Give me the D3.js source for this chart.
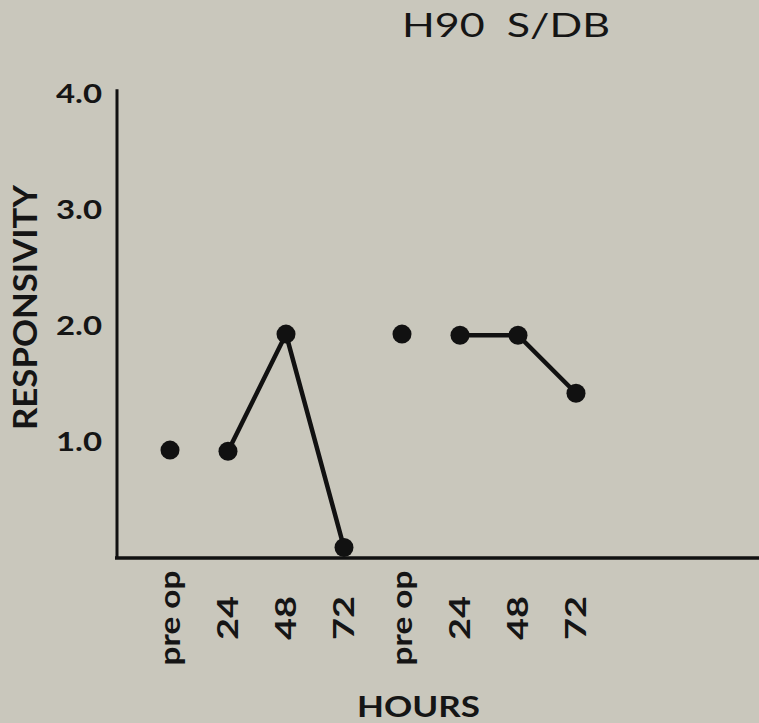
<!DOCTYPE html>
<meta charset="utf-8">
<style>
body { margin: 0; background: #c9c7bc; }
svg { display: block; }
text { font-family: Lato, "Open Sans", sans-serif; fill: #151515; }
</style>
<body>
<script src="https://cdn.jsdelivr.net/npm/d3@7"></script>
<script>
var width = 759
var height = 723

// values
var hours = ['pre op', '24', '48', '72', 'pre op', '24', '48', '72']
var responsivity = [0.93, 0.92, 1.93, 0.09, 1.93, 1.92, 1.92, 1.42]
// which points are joined by a line (indices into the arrays above)
var joined = [[1, 2, 3], [5, 6, 7]]
var yTicks = [1, 2, 3, 4]

var x = d3.scalePoint()
    .domain(d3.range(hours.length))
    .range([170, 576])

var y = d3.scaleLinear()
    .domain([0, 4])
    .range([558, 94])

var svg = d3.select('body').append('svg')
    .attr('width', width)
    .attr('height', height)

// axes
svg.append('line')
    .attr('x1', 117).attr('x2', 117)
    .attr('y1', y(4.04)).attr('y2', y(0))
    .style('stroke', '#111').style('stroke-width', 3)

svg.append('line')
    .attr('x1', 115).attr('x2', width)
    .attr('y1', y(0)).attr('y2', y(0))
    .style('stroke', '#111').style('stroke-width', 3.5)

// the typeface on the scan is a wide geometric sans, so glyphs are stretched
svg.selectAll('.ytick')
    .data(yTicks)
    .enter().append('text')
    .attr('class', 'ytick')
    .attr('x', 102)
    .attr('y', function (d) { return y(d) })
    .attr('dy', '0.36em')
    .attr('text-anchor', 'end')
    .attr('textLength', 46)
    .attr('lengthAdjust', 'spacingAndGlyphs')
    .style('font-size', '26px')
    .style('font-weight', 'bold')
    .text(function (d) { return d.toFixed(1) })

svg.selectAll('.xtick')
    .data(hours)
    .enter().append('text')
    .attr('class', 'xtick')
    .attr('transform', function (d, i) { return 'translate(' + x(i) + ',618) rotate(-90)' })
    .attr('dy', '0.36em')
    .attr('text-anchor', 'middle')
    .attr('textLength', function (d) { return d.length > 2 ? 95 : 44 })
    .attr('lengthAdjust', 'spacingAndGlyphs')
    .style('font-size', '28px')
    .style('font-weight', 'bold')
    .text(function (d) { return d })

// lines and dots
var line = d3.line()
    .x(function (i) { return x(i) })
    .y(function (i) { return y(responsivity[i]) })

svg.selectAll('.seg')
    .data(joined)
    .enter().append('path')
    .attr('class', 'seg')
    .attr('d', line)
    .style('fill', 'none')
    .style('stroke', '#111')
    .style('stroke-width', 4.5)

svg.selectAll('.dot')
    .data(responsivity)
    .enter().append('circle')
    .attr('class', 'dot')
    .attr('cx', function (d, i) { return x(i) })
    .attr('cy', function (d) { return y(d) })
    .attr('r', 9.5)
    .style('fill', '#111')

// titles
svg.append('text')
    .attr('x', 402).attr('y', 37)
    .attr('textLength', 208)
    .attr('lengthAdjust', 'spacingAndGlyphs')
    .attr('xml:space', 'preserve')
    .style('white-space', 'pre')
    .style('font-size', '32px')
    .text('H90  S/DB')

svg.append('text')
    .attr('x', 357).attr('y', 717)
    .attr('textLength', 123)
    .attr('lengthAdjust', 'spacingAndGlyphs')
    .style('font-size', '29px')
    .style('font-weight', 'bold')
    .text('HOURS')

svg.append('text')
    .attr('transform', 'translate(37,430) rotate(-90)')
    .attr('textLength', 245)
    .attr('lengthAdjust', 'spacingAndGlyphs')
    .style('font-size', '32px')
    .style('font-weight', 'bold')
    .text('RESPONSIVITY')
</script>
</body>
